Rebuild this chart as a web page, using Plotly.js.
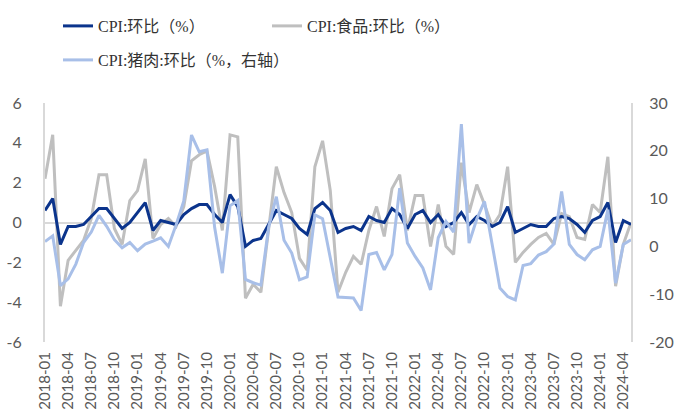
<!DOCTYPE html>
<html>
<head>
<meta charset="utf-8">
<script src="https://cdn.plot.ly/plotly-3.0.1.min.js"></script>
<style>html,body{margin:0;padding:0;background:#fff;}#chart{width:676px;height:416px;}</style>
</head>
<body>
<div id="chart"></div>
<script>
// Months 2018-01 .. 2024-05
var months = [
 '2018-01','2018-02','2018-03','2018-04','2018-05','2018-06','2018-07','2018-08','2018-09','2018-10','2018-11','2018-12',
 '2019-01','2019-02','2019-03','2019-04','2019-05','2019-06','2019-07','2019-08','2019-09','2019-10','2019-11','2019-12',
 '2020-01','2020-02','2020-03','2020-04','2020-05','2020-06','2020-07','2020-08','2020-09','2020-10','2020-11','2020-12',
 '2021-01','2021-02','2021-03','2021-04','2021-05','2021-06','2021-07','2021-08','2021-09','2021-10','2021-11','2021-12',
 '2022-01','2022-02','2022-03','2022-04','2022-05','2022-06','2022-07','2022-08','2022-09','2022-10','2022-11','2022-12',
 '2023-01','2023-02','2023-03','2023-04','2023-05','2023-06','2023-07','2023-08','2023-09','2023-10','2023-11','2023-12',
 '2024-01','2024-02','2024-03','2024-04','2024-05'
];

// CPI: month-on-month (%)
var cpiMoM = [
 0.6, 1.2, -1.1, -0.2, -0.2, -0.1, 0.3, 0.7, 0.7, 0.2, -0.3, 0.0,
 0.5, 1.0, -0.4, 0.1, 0.0, -0.1, 0.4, 0.7, 0.9, 0.9, 0.4, 0.0,
 1.4, 0.8, -1.2, -0.9, -0.8, -0.1, 0.6, 0.4, 0.2, -0.3, -0.6, 0.7,
 1.0, 0.6, -0.5, -0.3, -0.2, -0.4, 0.3, 0.1, 0.0, 0.7, 0.4, -0.3,
 0.4, 0.6, 0.0, 0.4, -0.2, 0.0, 0.5, -0.1, 0.3, 0.1, -0.2, 0.0,
 0.8, -0.5, -0.3, -0.1, -0.2, -0.2, 0.2, 0.3, 0.2, -0.1, -0.5, 0.1,
 0.3, 1.0, -1.0, 0.1, -0.1
];

// CPI food: month-on-month (%)
var foodMoM = [
 2.2, 4.4, -4.2, -1.9, -1.4, -0.9, 0.2, 2.4, 2.4, -0.3, -1.1, 1.1,
 1.6, 3.2, -0.8, -0.1, 0.2, -0.2, 0.8, 3.1, 3.4, 3.6, 1.8, -0.4,
 4.4, 4.3, -3.8, -3.1, -3.5, -0.3, 2.8, 1.5, 0.5, -1.8, -2.4, 2.8,
 4.1, 1.6, -3.5, -2.5, -1.7, -2.1, -0.4, 0.8, -0.7, 1.7, 2.4, -0.4,
 1.35, 1.35, -1.2, 0.9, -1.2, -1.6, 3.0, 0.5, 1.9, 0.9, -0.2, 0.4,
 2.8, -2.0, -1.5, -1.1, -0.75, -0.55, -1.1, 0.45, 0.3, -0.75, -0.85, 0.9,
 0.5, 3.3, -3.2, -1.1, 0.0
];

// CPI pork: month-on-month (%, right axis)
var porkMoM = [
 1.0, 2.2, -8.2, -6.8, -3.7, 0.8, 3.0, 6.5, 4.2, 1.4, -0.3, 0.8,
 -0.9, 0.5, 1.1, 1.8, 0.0, 4.5, 9.5, 23.3, 19.8, 20.2, 4.0, -5.6,
 8.5, 9.6, -6.9, -7.6, -8.1, 4.0, 10.4, 1.3, -1.4, -7.0, -6.4, 6.6,
 5.8, -2.5, -10.6, -10.7, -10.8, -13.4, -1.7, -1.3, -4.9, -1.7, 12.2, 0.7,
 -2.1, -4.5, -9.1, 1.8, 5.2, 3.0, 25.6, 0.7, 5.7, 9.4, 0.7, -8.7,
 -10.5, -11.2, -4.0, -3.6, -1.8, -1.1, 0.5, 11.5, 0.4, -1.7, -2.8, -0.7,
 0.0, 7.7, -7.7, 0.4, 1.4
];

var xTickVals = [
 '2018-01','2018-04','2018-07','2018-10','2019-01','2019-04','2019-07','2019-10',
 '2020-01','2020-04','2020-07','2020-10','2021-01','2021-04','2021-07','2021-10',
 '2022-01','2022-04','2022-07','2022-10','2023-01','2023-04','2023-07','2023-10',
 '2024-01','2024-04'
];
var yLeftVals = [-6, -4, -2, 0, 2, 4, 6];
var yLeftText = ['-6', '-4', '-2', '0', '2', '4', '6'];
var yRightVals = [-20, -10, 0, 10, 20, 30];
var yRightText = ['-20', '-10', '0', '10', '20', '30'];

var seriesNames = ['CPI:环比（%）', 'CPI:食品:环比（%）', 'CPI:猪肉:环比（%，右轴）'];

var tickFont = {family: 'Lato, "Open Sans", sans-serif', size: 16, color: '#595959'};
var legendFont = {family: '"Liberation Serif", "Noto Sans CJK SC", serif', size: 16, color: '#333333'};

var traces = [
  {x: months, y: porkMoM, name: seriesNames[2], type: 'scatter', mode: 'lines', yaxis: 'y2',
   line: {color: '#a8bfe8', width: 3}, legend: 'legend2'},
  {x: months, y: foodMoM, name: seriesNames[1], type: 'scatter', mode: 'lines',
   line: {color: '#bfbfbf', width: 3}, legend: 'legend'},
  {x: months, y: cpiMoM, name: seriesNames[0], type: 'scatter', mode: 'lines',
   line: {color: '#0b348c', width: 3}, legend: 'legend'}
];

var layout = {
  width: 676, height: 416,
  margin: {l: 45, r: 45, t: 103, b: 74, pad: 0},
  paper_bgcolor: '#ffffff', plot_bgcolor: '#ffffff',
  showlegend: true,
  legend: {orientation: 'h', xref: 'container', yref: 'container', x: 58/676, y: 1 - 9/416,
    xanchor: 'left', yanchor: 'top', font: legendFont, traceorder: 'reversed',
    entrywidth: 164, entrywidthmode: 'pixels', bgcolor: 'rgba(0,0,0,0)'},
  legend2: {orientation: 'h', xref: 'container', yref: 'container', x: 58/676, y: 1 - 43/416,
    xanchor: 'left', yanchor: 'top', font: legendFont, bgcolor: 'rgba(0,0,0,0)'},
  xaxis: {type: 'category', range: [0, months.length - 1], tickmode: 'array', tickvals: xTickVals,
    ticktext: xTickVals, tickangle: -90, ticks: '', showgrid: false, zeroline: false, showline: false,
    tickfont: {family: 'Lato, "Open Sans", sans-serif', size: 15, color: '#595959'}, ticklabelstandoff: 6},
  yaxis: {range: [-6, 6], tickmode: 'array', tickvals: yLeftVals, ticktext: yLeftText, ticks: '',
    showgrid: false, zeroline: true, zerolinecolor: '#d9d9d9', zerolinewidth: 2,
    showline: true, linecolor: '#d9d9d9', linewidth: 2, tickfont: tickFont, ticklabelstandoff: 18},
  yaxis2: {range: [-20, 30], overlaying: 'y', side: 'right', tickmode: 'array', tickvals: yRightVals,
    ticktext: yRightText, ticks: '', showgrid: false, zeroline: false,
    showline: true, linecolor: '#d9d9d9', linewidth: 2, tickfont: tickFont, ticklabelstandoff: 13}
};

Plotly.newPlot('chart', traces, layout, {displayModeBar: false, staticPlot: true});
</script>
</body>
</html>
